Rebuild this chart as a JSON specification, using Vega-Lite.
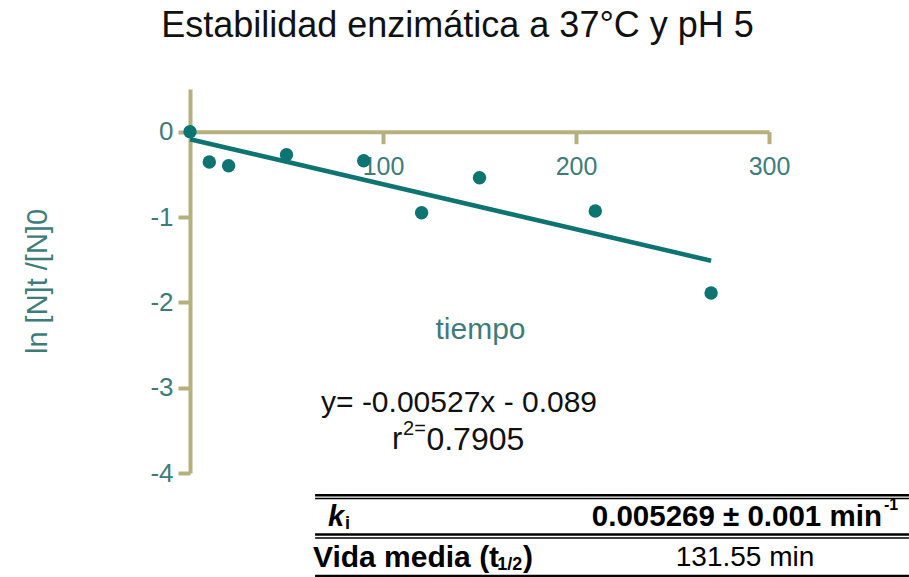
{
  "$schema": "https://vega.github.io/schema/vega-lite/v6.json",
  "width": 579,
  "height": 384,
  "autosize": {"type": "none"},
  "padding": {"left": 190, "top": 89, "right": 140, "bottom": 104},
  "background": "white",
  "config": {"view": {"stroke": null}, "font": "Liberation Sans"},
  "title": {
    "text": "Estabilidad enzimática a 37°C y pH 5",
    "font": "Liberation Sans",
    "fontSize": 36,
    "fontWeight": "normal",
    "color": "#111111",
    "anchor": "middle",
    "frame": "group",
    "baseline": "alphabetic",
    "offset": 16,
    "dx": -22
  },
  "data": {"values": [{"row": 1}]},
  "datasets": {
    "pts": [
      {"tiempo": 0, "lnN": 0},
      {"tiempo": 10, "lnN": -0.355},
      {"tiempo": 20, "lnN": -0.4},
      {"tiempo": 50, "lnN": -0.27},
      {"tiempo": 90, "lnN": -0.34},
      {"tiempo": 120, "lnN": -0.95},
      {"tiempo": 150, "lnN": -0.54},
      {"tiempo": 210, "lnN": -0.93},
      {"tiempo": 270, "lnN": -1.89}
    ],
    "fit": [
      {"tiempo": 0, "lnN": -0.089},
      {"tiempo": 270, "lnN": -1.512}
    ]
  },
  "layer": [
    {
      "data": {"name": "fit"},
      "mark": {"type": "line", "color": "#0e7471", "strokeWidth": 4.5, "clip": false},
      "encoding": {
        "x": {
          "field": "tiempo", "type": "quantitative",
          "scale": {"domain": [0, 300], "nice": false, "zero": false},
          "axis": {
            "orient": "bottom", "offset": -341.33,
            "values": [100, 200, 300],
            "labelFlush": false,
            "title": "tiempo",
            "titleFont": "Liberation Sans", "titleFontSize": 30, "titleFontWeight": "normal",
            "titleColor": "#3e7c79",
            "titleX": 290, "titleY": 198, "titleBaseline": "middle", "titleAlign": "center",
            "domainColor": "#b5b07e", "domainWidth": 4, "domainCap": "butt",
            "tickColor": "#b5b07e", "tickWidth": 4, "tickSize": 12,
            "labelFont": "Liberation Sans", "labelFontSize": 25, "labelColor": "#3e7c79",
            "labelPadding": 11, "grid": false
          }
        },
        "y": {
          "field": "lnN", "type": "quantitative",
          "scale": {"domain": [-4, 0.5], "nice": false, "zero": false},
          "axis": {
            "orient": "left",
            "values": [-4, -3, -2, -1, 0],
            "labelExpr": "datum.value == 0 ? '0' : '-' + abs(datum.value)",
            "title": "ln [N]t /[N]0",
            "titleFont": "Liberation Sans", "titleFontSize": 29, "titleFontWeight": "normal",
            "titleColor": "#3e7c79",
            "titleAngle": -90, "titleX": -153, "titleY": 192,
            "titleBaseline": "middle", "titleAlign": "center",
            "domainColor": "#b5b07e", "domainWidth": 4, "domainCap": "butt",
            "tickColor": "#b5b07e", "tickWidth": 4, "tickSize": 12,
            "labelFont": "Liberation Sans", "labelFontSize": 26, "labelColor": "#3e7c79",
            "labelPadding": 5, "grid": false
          }
        }
      }
    },
    {
      "data": {"name": "pts"},
      "mark": {"type": "circle", "color": "#0e7471", "opacity": 1, "size": 180, "clip": false},
      "encoding": {
        "x": {"field": "tiempo", "type": "quantitative"},
        "y": {"field": "lnN", "type": "quantitative"}
      }
    },
    {
      "mark": {"type": "text", "text": "y= -0.00527x - 0.089", "font": "Liberation Sans", "fontSize": 30, "color": "#111111", "align": "center", "baseline": "middle"},
      "encoding": {"x": {"datum": 139.4, "type": "quantitative"}, "y": {"datum": -3.18, "type": "quantitative"}}
    },
    {
      "mark": {"type": "text", "text": "r", "font": "Liberation Sans", "fontSize": 31, "color": "#111111", "align": "left", "baseline": "middle"},
      "encoding": {"x": {"datum": 104.7, "type": "quantitative"}, "y": {"datum": -3.61, "type": "quantitative"}}
    },
    {
      "mark": {"type": "text", "text": "2=", "font": "Liberation Sans", "fontSize": 20, "color": "#111111", "align": "left", "baseline": "middle"},
      "encoding": {"x": {"datum": 110.4, "type": "quantitative"}, "y": {"datum": -3.49, "type": "quantitative"}}
    },
    {
      "mark": {"type": "text", "text": "0.7905", "font": "Liberation Sans", "fontSize": 32, "color": "#111111", "align": "left", "baseline": "middle"},
      "encoding": {"x": {"datum": 122.5, "type": "quantitative"}, "y": {"datum": -3.61, "type": "quantitative"}}
    },
    {
      "mark": {"type": "rule", "color": "#000000", "strokeWidth": 2.5},
      "encoding": {"x": {"datum": 64.8, "type": "quantitative"}, "x2": {"datum": 372.5}, "y": {"datum": -4.26, "type": "quantitative"}}
    },
    {
      "mark": {"type": "rule", "color": "#000000", "strokeWidth": 1.5},
      "encoding": {"x": {"datum": 64.8, "type": "quantitative"}, "x2": {"datum": 372.5}, "y": {"datum": -4.30, "type": "quantitative"}}
    },
    {
      "mark": {"type": "rule", "color": "#000000", "strokeWidth": 2.5},
      "encoding": {"x": {"datum": 64.8, "type": "quantitative"}, "x2": {"datum": 372.5}, "y": {"datum": -4.72, "type": "quantitative"}}
    },
    {
      "mark": {"type": "rule", "color": "#000000", "strokeWidth": 1.5},
      "encoding": {"x": {"datum": 64.8, "type": "quantitative"}, "x2": {"datum": 372.5}, "y": {"datum": -4.762, "type": "quantitative"}}
    },
    {
      "mark": {"type": "rule", "color": "#000000", "strokeWidth": 2.5},
      "encoding": {"x": {"datum": 64.8, "type": "quantitative"}, "x2": {"datum": 372.5}, "y": {"datum": -5.207, "type": "quantitative"}}
    },
    {
      "mark": {"type": "text", "text": "k", "font": "Liberation Sans", "fontSize": 29, "fontWeight": "bold", "fontStyle": "italic", "color": "#000000", "align": "left", "baseline": "middle"},
      "encoding": {"x": {"datum": 71.5, "type": "quantitative"}, "y": {"datum": -4.52, "type": "quantitative"}}
    },
    {
      "mark": {"type": "text", "text": "i", "font": "Liberation Sans", "fontSize": 18, "fontWeight": "bold", "color": "#000000", "align": "left", "baseline": "middle"},
      "encoding": {"x": {"datum": 80.3, "type": "quantitative"}, "y": {"datum": -4.6, "type": "quantitative"}}
    },
    {
      "mark": {"type": "text", "text": "0.005269 ± 0.001 min", "font": "Liberation Sans", "fontSize": 29.5, "fontWeight": "bold", "color": "#000000", "align": "right", "baseline": "middle"},
      "encoding": {"x": {"datum": 358.5, "type": "quantitative"}, "y": {"datum": -4.52, "type": "quantitative"}}
    },
    {
      "mark": {"type": "text", "text": "-1", "font": "Liberation Sans", "fontSize": 16, "fontWeight": "bold", "color": "#000000", "align": "left", "baseline": "middle"},
      "encoding": {"x": {"datum": 359.6, "type": "quantitative"}, "y": {"datum": -4.38, "type": "quantitative"}}
    },
    {
      "mark": {"type": "text", "text": "Vida media (t", "font": "Liberation Sans", "fontSize": 30, "fontWeight": "bold", "color": "#000000", "align": "left", "baseline": "middle"},
      "encoding": {"x": {"datum": 63.7, "type": "quantitative"}, "y": {"datum": -5.0, "type": "quantitative"}}
    },
    {
      "mark": {"type": "text", "text": "1/2", "font": "Liberation Sans", "fontSize": 18, "fontWeight": "bold", "color": "#000000", "align": "left", "baseline": "middle"},
      "encoding": {"x": {"datum": 159.2, "type": "quantitative"}, "y": {"datum": -5.08, "type": "quantitative"}}
    },
    {
      "mark": {"type": "text", "text": ")", "font": "Liberation Sans", "fontSize": 30, "fontWeight": "bold", "color": "#000000", "align": "left", "baseline": "middle"},
      "encoding": {"x": {"datum": 172.6, "type": "quantitative"}, "y": {"datum": -5.0, "type": "quantitative"}}
    },
    {
      "mark": {"type": "text", "text": "131.55 min", "font": "Liberation Sans", "fontSize": 28, "color": "#000000", "align": "center", "baseline": "middle"},
      "encoding": {"x": {"datum": 287.6, "type": "quantitative"}, "y": {"datum": -5.0, "type": "quantitative"}}
    }
  ]
}
